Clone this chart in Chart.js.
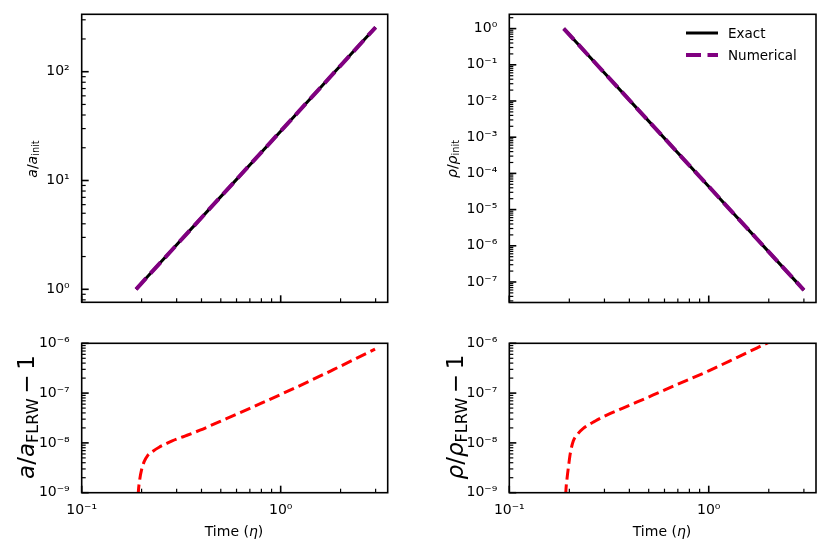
<!DOCTYPE html>
<html><head><meta charset="utf-8">
<script src="https://cdn.jsdelivr.net/npm/chart.js@4.4.0/dist/chart.umd.min.js"></script>
<style>
html,body{margin:0;padding:0;background:#fff;}
#wrap{position:relative;width:831px;height:556px;overflow:hidden;font-family:'DejaVu Sans',sans-serif;color:#000;}
canvas{position:absolute;}
.lab{position:absolute;font-size:14px;white-space:nowrap;line-height:1;}
.big{font-size:23px;}
.rot{transform:translate(-50%,-50%) rotate(-90deg);}
.hor{transform:translate(-50%,-50%);}
.sub{font-size:0.7em;position:relative;top:0.25em;}
.op{margin:0 0.2em;}
#legend{position:absolute;left:686px;top:22px;font-size:13.5px;}
.li{display:flex;align-items:center;height:22px;}
.li svg{margin-right:10px;}
</style></head><body>
<div id="wrap">
<canvas id="cA" style="left:0;top:0;width:420px;height:320px" width="420" height="320"></canvas>
<canvas id="cR" style="left:420px;top:0;width:411px;height:320px" width="411" height="320"></canvas>
<canvas id="cEA" style="left:0;top:320px;width:420px;height:236px" width="420" height="236"></canvas>
<canvas id="cER" style="left:420px;top:320px;width:411px;height:236px" width="411" height="236"></canvas>

<div class="lab rot" style="left:32px;top:159px"><i>a</i>/<i>a</i><span class="sub">init</span></div>
<div class="lab rot" style="left:452px;top:159px"><i>ρ</i>/<i>ρ</i><span class="sub">init</span></div>
<div class="lab rot big" style="left:26px;top:417px"><i>a</i>/<i>a</i><span class="sub">FLRW</span><span class="op">−</span>1</div>
<div class="lab rot big" style="left:455px;top:417px"><i>ρ</i>/<i>ρ</i><span class="sub">FLRW</span><span class="op">−</span>1</div>
<div class="lab hor" style="left:234px;top:531px">Time (<i>η</i>)</div>
<div class="lab hor" style="left:662px;top:531px">Time (<i>η</i>)</div>
<div id="legend"></div>
</div>
<script>
// ---------- data ----------
const seriesLabels = ['Exact', 'Numerical'];
const etaTop = [0.1875, 0.25, 0.5, 1.0, 2.0, 3.0];
const aExact = [1, 1.78, 7.11, 28.4, 113.8, 256];
const aNumerical = [1, 1.78, 7.11, 28.4, 113.8, 256];
const rhoExact = [1, 0.178, 0.00278, 4.35e-5, 6.79e-7, 5.96e-8];
const rhoNumerical = [1, 0.178, 0.00278, 4.35e-5, 6.79e-7, 5.96e-8];

const etaErrA = [0.1890, 0.1925, 0.1960, 0.2000, 0.2060, 0.2140, 0.2290, 0.2450, 0.2650, 0.2850, 0.3300, 0.3930, 0.5000, 0.5780, 0.7000, 0.8000, 1.0300, 1.4000, 1.8400, 2.4000, 2.9800];
const errA = [2e-10, 1.0e-9, 1.9e-9, 2.9e-9, 4.2e-9, 5.5e-9, 6.9e-9, 8.2e-9, 9.6e-9, 1.1e-8, 1.37e-8, 1.8e-8, 2.74e-8, 3.52e-8, 4.93e-8, 6.26e-8, 9.9e-8, 1.75e-7, 2.96e-7, 4.97e-7, 7.66e-7];
const etaErrRho = [0.1895, 0.1920, 0.1950, 0.1980, 0.2020, 0.2095, 0.2200, 0.2350, 0.2700, 0.3080, 0.4000, 0.5270, 0.7000, 1.0000, 1.4000, 1.9500, 2.5000, 3.0000];
const errRho = [2e-10, 1.0e-9, 2.0e-9, 3.3e-9, 6.0e-9, 1.1e-8, 1.5e-8, 1.96e-8, 2.75e-8, 3.6e-8, 5.67e-8, 9.16e-8, 1.51e-7, 2.8e-7, 5.3e-7, 1.0e-6, 1.61e-6, 2.29e-6];

// ---------- tick labels ----------
const xTickValues = [0.1, 1];
const xTickLabels = ['10⁻¹', '10⁰'];
const aTickValues = [1, 10, 100];
const aTickLabels = ['10⁰', '10¹', '10²'];
const rhoTickValues = [1, 1e-1, 1e-2, 1e-3, 1e-4, 1e-5, 1e-6, 1e-7];
const rhoTickLabels = ['10⁰', '10⁻¹', '10⁻²', '10⁻³', '10⁻⁴', '10⁻⁵', '10⁻⁶', '10⁻⁷'];
const errTickValues = [1e-9, 1e-8, 1e-7, 1e-6];
const errTickLabels = ['10⁻⁹', '10⁻⁸', '10⁻⁷', '10⁻⁶'];

// ---------- helpers ----------
Chart.defaults.font.family = "'DejaVu Sans', sans-serif";
Chart.defaults.font.size = 14;
Chart.defaults.color = '#000';

const pts = (xs, ys) => xs.map((x, i) => ({x, y: ys[i]}));

function labeler(vals, labs) {
  return function (v) {
    for (let i = 0; i < vals.length; i++) {
      if (Math.abs(Math.log10(v) - Math.log10(vals[i])) < 1e-6) return labs[i];
    }
    return '';
  };
}

function logMarks(min, max) {
  const out = [];
  for (let e = Math.floor(Math.log10(min)) - 1; e <= Math.ceil(Math.log10(max)); e++) {
    for (let k = 1; k <= 9; k++) {
      const v = k * Math.pow(10, e);
      if (v >= min * (1 - 1e-9) && v <= max * (1 + 1e-9)) out.push({v, major: k === 1});
    }
  }
  return out;
}

const axesDeco = {
  id: 'axesDeco',
  afterDraw(chart) {
    const {ctx, chartArea: a, scales: {x, y}} = chart;
    ctx.save();
    ctx.strokeStyle = '#000';
    for (const t of logMarks(x.min, x.max)) {
      const p = x.getPixelForValue(t.v);
      ctx.lineWidth = t.major ? 1.6 : 1.2;
      ctx.beginPath(); ctx.moveTo(p, a.bottom); ctx.lineTo(p, a.bottom - (t.major ? 7 : 4)); ctx.stroke();
    }
    for (const t of logMarks(y.min, y.max)) {
      const p = y.getPixelForValue(t.v);
      ctx.lineWidth = t.major ? 1.6 : 1.2;
      ctx.beginPath(); ctx.moveTo(a.left, p); ctx.lineTo(a.left + (t.major ? 7 : 4), p); ctx.stroke();
    }
    ctx.lineWidth = 1.6;
    ctx.strokeRect(a.left, a.top, a.right - a.left, a.bottom - a.top);
    ctx.restore();
  }
};

function makeChart(id, o) {
  return new Chart(document.getElementById(id), {
    type: 'line',
    data: {datasets: o.datasets},
    options: {
      responsive: false,
      animation: false,
      layout: {padding: {left: 0, top: o.padTop, right: o.padRight, bottom: 0}},
      plugins: {legend: {display: false}, tooltip: {enabled: false}},
      elements: {point: {radius: 0}},
      scales: {
        x: {
          type: 'logarithmic', min: 0.1, max: 3.45,
          grid: {display: false}, border: {display: false},
          afterBuildTicks: s => { s.ticks = xTickValues.map(v => ({value: v})); },
          afterFit: s => { s.height = o.xh; },
          ticks: {display: o.showX, autoSkip: false, maxRotation: 0, padding: 1, callback: labeler(xTickValues, xTickLabels)}
        },
        y: {
          type: 'logarithmic', min: o.yMin, max: o.yMax,
          grid: {display: false}, border: {display: false},
          afterBuildTicks: s => { s.ticks = o.yVals.map(v => ({value: v})); },
          afterFit: s => { s.width = o.yw; },
          ticks: {autoSkip: false, padding: 4, callback: labeler(o.yVals, o.yLabs)}
        }
      }
    },
    plugins: [axesDeco]
  });
}

const exactStyle = {borderColor: '#000000', borderWidth: 3, clip: 0, order: 2};
const numStyle = {borderColor: '#800080', borderWidth: 4, borderDash: [15, 6.5], clip: 0, order: 1};
const errStyle = {borderColor: '#ff0000', borderWidth: 3, borderDash: [11, 5], clip: 0, cubicInterpolationMode: 'monotone'};

makeChart('cA', {
  padTop: 14.3, padRight: 32.3, xh: 17.7, yw: 81.7, showX: false,
  yMin: Math.pow(10, -0.1195), yMax: Math.pow(10, 2.5276), yVals: aTickValues, yLabs: aTickLabels,
  datasets: [
    Object.assign({label: seriesLabels[0], data: pts(etaTop, aExact)}, exactStyle),
    Object.assign({label: seriesLabels[1], data: pts(etaTop, aNumerical)}, numStyle)
  ]
});
const chartR = makeChart('cR', {
  padTop: 14.3, padRight: 15, xh: 17.5, yw: 89.3, showX: false,
  yMin: Math.pow(10, -7.567), yMax: Math.pow(10, 0.395), yVals: rhoTickValues, yLabs: rhoTickLabels,
  datasets: [
    Object.assign({label: seriesLabels[0], data: pts(etaTop, rhoExact)}, exactStyle),
    Object.assign({label: seriesLabels[1], data: pts(etaTop, rhoNumerical)}, numStyle)
  ]
});
makeChart('cEA', {
  padTop: 23.3, padRight: 32.3, xh: 63.3, yw: 81.7, showX: true,
  yMin: 1e-9, yMax: 1e-6, yVals: errTickValues, yLabs: errTickLabels,
  datasets: [Object.assign({label: 'a error', data: pts(etaErrA, errA)}, errStyle)]
});
makeChart('cER', {
  padTop: 23.3, padRight: 15, xh: 63.3, yw: 89.3, showX: true,
  yMin: 1e-9, yMax: 1e-6, yVals: errTickValues, yLabs: errTickLabels,
  datasets: [Object.assign({label: 'rho error', data: pts(etaErrRho, errRho)}, errStyle)]
});

// legend built from the density chart's datasets
const leg = document.getElementById('legend');
chartR.data.datasets.forEach(ds => {
  const row = document.createElement('div');
  row.className = 'li';
  const dash = ds.borderDash ? ds.borderDash.join(' ') : 'none';
  row.innerHTML = '<svg width="32" height="8"><line x1="0" y1="4" x2="32" y2="4" stroke="' + ds.borderColor +
    '" stroke-width="' + ds.borderWidth + '" stroke-dasharray="' + dash + '"/></svg><span>' + ds.label + '</span>';
  leg.appendChild(row);
});
</script>
</body></html>
